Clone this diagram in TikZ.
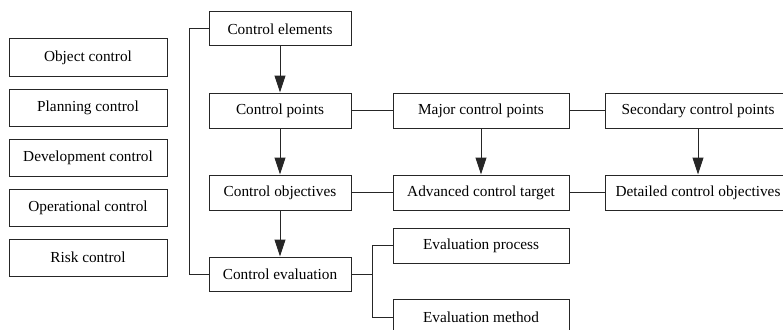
\documentclass[tikz,border=0pt]{standalone}
\usepackage{fontspec}
\setmainfont{Liberation Serif}
\usetikzlibrary{arrows.meta}
\begin{document}
\begin{tikzpicture}[x=1pt,y=-1pt,
  box/.style={draw=black!85, line width=1pt, fill=white, inner sep=0pt, minimum height=35pt, font=\fontsize{15.3}{17}\selectfont},
  leftbox/.style={box, minimum width=158pt, minimum height=37pt},
  midbox/.style={box, minimum width=142pt},
  rbox/.style={box, minimum width=176pt},
  farbox/.style={box, minimum width=186pt},
  line/.style={draw=black!85, line width=1pt},
  arr/.style={line, -{Triangle[length=17pt,width=11pt]}}]
\useasboundingbox (0,0) rectangle (783,329);
\clip (0,0) rectangle (783,329);
\node[leftbox] (oc) at (88,57.5) {Object control};
\node[leftbox] (pc) at (88,107.5) {Planning control};
\node[leftbox] (dc) at (88,157.5) {Development control};
\node[leftbox] (opc) at (88,207.5) {Operational control};
\node[leftbox] (rc) at (88,257.5) {Risk control};
\node[midbox, minimum height=34pt] (ce) at (280,29) {Control elements};
\node[midbox] (cp) at (280,110.5) {Control points};
\node[midbox] (co) at (280,192.5) {Control objectives};
\node[midbox, minimum height=34pt] (cev) at (280,274) {Control evaluation};
\node[rbox] (mcp) at (481,110.5) {Major control points};
\node[rbox] (act) at (481,192.5) {Advanced control target};
\node[rbox] (ep) at (481,245.5) {Evaluation process};
\node[rbox] (em) at (481,317) {Evaluation method};
\node[farbox] (scp) at (698,110.5) {Secondary control points};
\node[farbox] (dco) at (698,192.5) {Detailed control objectives};
\coordinate (bl) at (189,0);
\coordinate (fk) at (372,0);
\draw[arr] (ce) -- (cp);
\draw[arr] (cp) -- (co);
\draw[arr] (co) -- (cev);
\draw[arr] (mcp) -- (act);
\draw[arr] (scp) -- (dco);
\draw[line] (cp) -- (mcp);
\draw[line] (mcp) -- (scp);
\draw[line] (co) -- (act);
\draw[line] (act) -- (dco);
\draw[line] (ce.west) -- (ce.west -| bl) -- (cev.west -| bl) -- (cev.west);
\draw[line] (cev.east) -- (cev.east -| fk);
\draw[line] (ep.west) -- (ep.west -| fk) -- (em.west -| fk) -- (em.west);
\end{tikzpicture}
\end{document}
